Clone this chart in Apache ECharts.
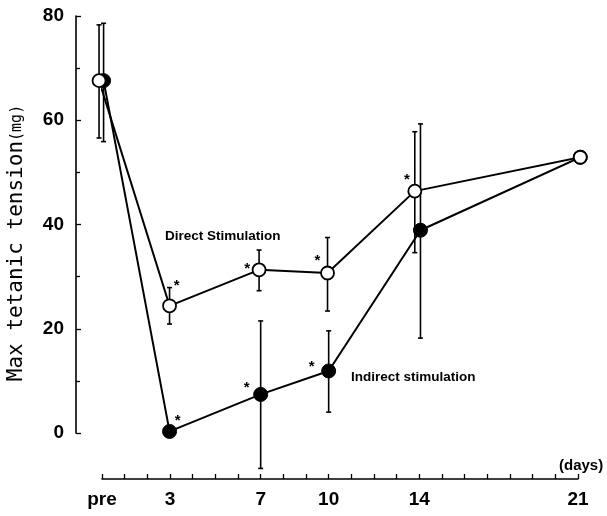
<!DOCTYPE html>
<html><head><meta charset="utf-8">
<script src="https://cdn.jsdelivr.net/npm/echarts@6/dist/echarts.min.js"></script>
<style>html,body{margin:0;padding:0;background:#fff}#c{width:607px;height:516px}</style>
</head><body><div id="c"></div>
<script>
var days = [0, 3, 7, 10, 14, 21];
var dayLabels = {0: 'pre', 3: '3', 7: '7', 10: '10', 14: '14', 21: '21'};
var yTicks = [0, 20, 40, 60, 80];

var directMean = [67.6, 24.4, 31.3, 30.7, 46.4, 52.9];
var directHigh = [78.3, 27.9, 35.1, 37.5, 57.8, null];
var directLow  = [56.6, 20.9, 27.3, 23.4, 34.6, null];
var directSig  = [false, true, true, true, true, false];

var indirectMean = [67.6, 0.3, 7.4, 11.9, 38.9, 52.9];
var indirectHigh = [78.6, null, 21.5, 19.6, 59.3, null];
var indirectLow  = [55.9, null, -6.8, 4.0, 18.2, null];
var indirectSig  = [false, true, true, true, false, false];

var FONT = 'Liberation Sans, Arial, sans-serif';
// small horizontal dodge (days) so overlapping markers stay visible
var dodgeDirect   = [-0.13, -0.02, -0.07, -0.05, -0.2, 0.1];
var dodgeIndirect = [0.07, -0.02, 0.0, 0.0, 0.05, 0.1];
// asterisk offsets (px) relative to each point
var starOffDirect = [[0,0],[7,-20],[-12,-1],[-10,-12],[-8,-11],[0,0]];
var starOffIndirect = [[0,0],[8,-11],[-14,-7],[-17,-4],[0,0],[0,0]];

function pts(mean, dodge, sig, offs) {
  return days.map(function (d, i) {
    var item = {value: [d + dodge[i], mean[i]]};
    if (sig[i]) {
      item.label = {show: true, formatter: '*', position: 'inside', offset: offs[i],
        fontSize: 15, fontWeight: 'bold', color: '#000', fontFamily: FONT};
    }
    return item;
  });
}
function errData(low, high, dodge) {
  var out = [];
  days.forEach(function (d, i) {
    if (low[i] != null && high[i] != null) out.push([d + dodge[i], low[i], high[i]]);
  });
  return out;
}
function errRender(params, api) {
  var x = api.value(0);
  var p1 = api.coord([x, api.value(1)]);
  var p2 = api.coord([x, api.value(2)]);
  var cw = 2.5;
  var st = {stroke: '#000', lineWidth: 1.6};
  return {type: 'group', children: [
    {type: 'line', shape: {x1: p1[0], y1: p1[1], x2: p2[0], y2: p2[1]}, style: st},
    {type: 'line', shape: {x1: p1[0]-cw, y1: p1[1], x2: p1[0]+cw, y2: p1[1]}, style: st},
    {type: 'line', shape: {x1: p2[0]-cw, y1: p2[1], x2: p2[0]+cw, y2: p2[1]}, style: st}
  ]};
}

var chart = echarts.init(document.getElementById('c'), null, {renderer: 'canvas'});
chart.setOption({
  animation: false,
  backgroundColor: '#fff',
  grid: {left: 102, right: 29, top: 16, bottom: 83},
  xAxis: {
    type: 'value', min: 0, max: 21, interval: 1, offset: 46,
    axisLine: {show: true, onZero: false, lineStyle: {color: '#000', width: 1.6}},
    axisTick: {show: true, inside: true, length: 5, lineStyle: {color: '#000', width: 1.3}},
    axisLabel: {margin: 11, fontSize: 19, fontWeight: 'bold', color: '#000', fontFamily: FONT,
      formatter: function (v) { return dayLabels[v] !== undefined ? dayLabels[v] : ''; }},
    splitLine: {show: false}
  },
  yAxis: {
    type: 'value', min: yTicks[0], max: yTicks[yTicks.length-1], interval: 20, offset: 26,
    axisLine: {show: true, onZero: false, lineStyle: {color: '#000', width: 1.6}},
    axisTick: {show: true, inside: true, length: 5, lineStyle: {color: '#000', width: 1.3}},
    minorTick: {show: true, splitNumber: 2, length: 4, lineStyle: {color: '#000', width: 1.3}},
    axisLabel: {margin: 12, fontSize: 19, fontWeight: 'bold', color: '#000', fontFamily: FONT},
    splitLine: {show: false}
  },
  graphic: [
    {type: 'text', x: 17, y: 243, rotation: Math.PI / 2, z: 100,
      style: {text: '{a|Max tetanic tension}{b|(mg)}', align: 'center', verticalAlign: 'middle',
        rich: {a: {fontFamily: 'DejaVu Sans Mono, monospace', fontSize: 21, fill: '#000'},
               b: {fontFamily: 'DejaVu Sans Mono, monospace', fontSize: 15, fill: '#000'}}}},
    {type: 'text', x: 165, y: 236, z: 100,
      style: {text: 'Direct Stimulation', font: 'bold 13.5px ' + FONT, fill: '#000', verticalAlign: 'middle'}},
    {type: 'text', x: 351, y: 377, z: 100,
      style: {text: 'Indirect stimulation', font: 'bold 13.5px ' + FONT, fill: '#000', verticalAlign: 'middle'}},
    {type: 'text', x: 559, y: 466, z: 100,
      style: {text: '(days)', font: 'bold 15px ' + FONT, fill: '#000', verticalAlign: 'middle'}}
  ],
  series: [
    {type: 'custom', name: 'errIndirect', renderItem: errRender, clip: false, z: 1,
      data: errData(indirectLow, indirectHigh, dodgeIndirect), encode: {x: 0, y: [1, 2]}},
    {type: 'custom', name: 'errDirect', renderItem: errRender, clip: false, z: 1,
      data: errData(directLow, directHigh, dodgeDirect), encode: {x: 0, y: [1, 2]}},
    {type: 'line', name: 'Indirect stimulation', clip: false, z: 3,
      data: pts(indirectMean, dodgeIndirect, indirectSig, starOffIndirect),
      symbol: 'circle', symbolSize: 14,
      lineStyle: {color: '#000', width: 2},
      itemStyle: {color: '#000', borderColor: '#000', borderWidth: 1}},
    {type: 'line', name: 'Direct Stimulation', clip: false, z: 4,
      data: pts(directMean, dodgeDirect, directSig, starOffDirect),
      symbol: 'circle', symbolSize: 13,
      lineStyle: {color: '#000', width: 2},
      itemStyle: {color: '#fff', borderColor: '#000', borderWidth: 1.8}}
  ]
});
</script></body></html>
